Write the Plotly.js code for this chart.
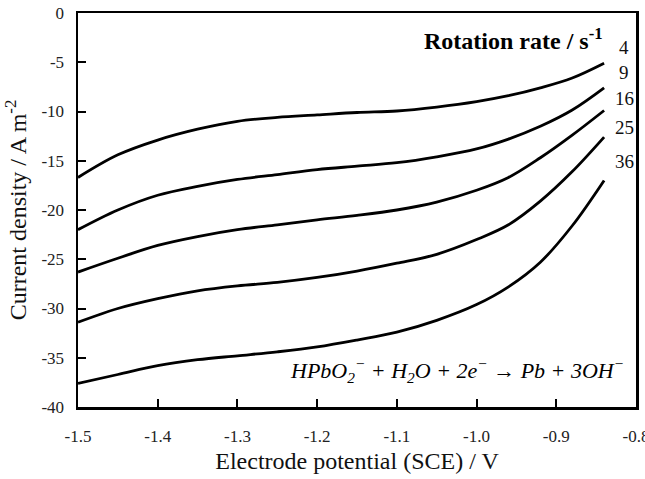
<!DOCTYPE html>
<html>
<head>
<meta charset="utf-8">
<script src="https://cdn.plot.ly/plotly-3.0.1.min.js"></script>
<style>html,body{margin:0;padding:0;background:#fff;}#chart{width:645px;height:479px;}</style>
</head>
<body>
<div id="chart"></div>
<script>
// Electrode potential (SCE) / V
const potential = [-1.5, -1.45, -1.4, -1.35, -1.3, -1.25, -1.2, -1.15, -1.1, -1.05, -1.0, -0.96, -0.92, -0.88, -0.84];
// Current density / A m^-2 for each rotation rate
const rate4  = [-16.7, -14.4, -12.9, -11.8, -11.0, -10.6, -10.35, -10.1, -9.95, -9.55, -9.0, -8.4, -7.6, -6.6, -5.1];
const rate9  = [-22.0, -20.0, -18.5, -17.6, -16.9, -16.4, -15.9, -15.55, -15.2, -14.6, -13.8, -12.8, -11.5, -9.85, -7.6];
const rate16 = [-26.3, -24.9, -23.6, -22.7, -22.0, -21.5, -21.0, -20.55, -20.0, -19.2, -18.0, -16.7, -14.7, -12.4, -9.9];
const rate25 = [-31.4, -30.0, -29.0, -28.2, -27.7, -27.35, -26.85, -26.2, -25.4, -24.5, -23.0, -21.5, -19.1, -16.1, -12.6];
const rate36 = [-37.6, -36.7, -35.8, -35.2, -34.8, -34.4, -33.9, -33.2, -32.4, -31.2, -29.6, -27.8, -25.3, -21.6, -17.0];
const seriesNames = ['4', '9', '16', '25', '36'];
const seriesData = [rate4, rate9, rate16, rate25, rate36];
const xTicks = [-1.5, -1.4, -1.3, -1.2, -1.1, -1.0, -0.9, -0.8];
const yTicks = [0, -5, -10, -15, -20, -25, -30, -35, -40];

const serif = 'Liberation Serif, Times New Roman, serif';

const traces = seriesData.map((ys, i) => ({
  x: potential, y: ys, type: 'scatter', mode: 'lines', name: seriesNames[i],
  line: {color: '#000', width: 2.8, shape: 'spline', smoothing: 1},
  hoverinfo: 'skip'
}));

// label positions for the rotation rates (y positions in data units)
const labelY = [-3.55, -6.0, -8.7, -11.6, -15.1];

const annotations = seriesNames.map((n, i) => ({
  x: -0.815, y: labelY[i], xref: 'x', yref: 'y', text: n, showarrow: false,
  xanchor: 'center', yanchor: 'middle', font: {family: serif, size: 19, color: '#111'}
}));
annotations.push({
  x: -0.839, y: -2.65, xref: 'x', yref: 'y', text: '<b>Rotation rate / s<sup>-1</sup></b>',
  showarrow: false, xanchor: 'right', yanchor: 'middle',
  font: {family: serif, size: 24, color: '#000'}
});
annotations.push({
  x: -0.8125, y: -36.3, xref: 'x', yref: 'y',
  text: '<i>HPbO<sub>2</sub><sup>−</sup> + H<sub>2</sub>O + 2e<sup>−</sup> → Pb + 3OH<sup>−</sup></i>',
  showarrow: false, xanchor: 'right', yanchor: 'middle',
  font: {family: serif, size: 22, color: '#000'}
});

const layout = {
  width: 645, height: 479,
  margin: {l: 78, r: 9, t: 13, b: 72},
  paper_bgcolor: '#fff', plot_bgcolor: '#fff',
  font: {family: serif},
  showlegend: false,
  xaxis: {
    range: [-1.5, -0.8], tickvals: xTicks, ticktext: xTicks.map(v => v.toFixed(1)),
    ticks: 'inside', ticklen: 8, tickwidth: 2, tickcolor: '#000',
    showline: true, linewidth: 2.5, linecolor: '#000', mirror: true,
    showgrid: false, zeroline: false, ticklabelstandoff: 12, ticklabeloverflow: 'allow',
    tickfont: {family: serif, size: 17, color: '#222'},
    title: {text: 'Electrode potential (SCE) / V', font: {family: serif, size: 24, color: '#111'}, standoff: 8}
  },
  yaxis: {
    range: [-40, 0], tickvals: yTicks, ticktext: yTicks.map(v => String(v)),
    ticks: 'inside', ticklen: 8, tickwidth: 2, tickcolor: '#000',
    showline: true, linewidth: 2.5, linecolor: '#000', mirror: true,
    showgrid: false, zeroline: false, ticklabelstandoff: 8,
    tickfont: {family: serif, size: 17, color: '#222'},
    title: {text: 'Current density / A m<sup>-2</sup>', font: {family: serif, size: 24, color: '#111'}, standoff: 8}
  },
  annotations: annotations
};

Plotly.newPlot('chart', traces, layout, {staticPlot: true, displayModeBar: false});
</script>
</body>
</html>
